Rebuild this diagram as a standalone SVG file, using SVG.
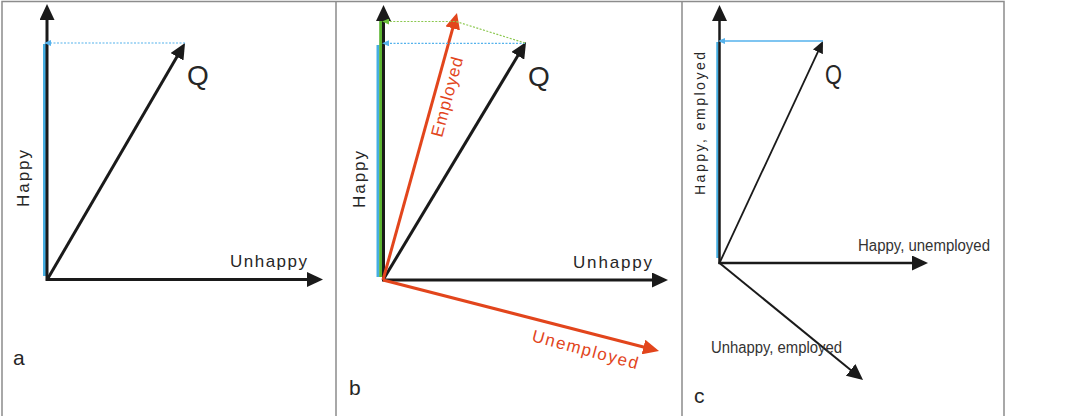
<svg xmlns="http://www.w3.org/2000/svg" width="1084" height="416" viewBox="0 0 1084 416">
<style>
.frame{fill:none;stroke:#8c8c8c;stroke-width:1.5}
.ax{stroke:#1a1a1a;stroke-width:3;fill:none}
.axc{stroke:#1a1a1a;stroke-width:2.5;fill:none}
.thin{stroke:#1a1a1a;stroke-width:1.8;fill:none}
.red{stroke:#e2451c;stroke-width:3;fill:none}
.bluebar{stroke:#45aee2;stroke-width:3}
.greenbar{stroke:#5cb531;stroke-width:3}
.bdash{stroke:#55b2ec;stroke-width:1.2;stroke-dasharray:2 1.5;fill:none}
.gdash{stroke:#8cc850;stroke-width:1.2;stroke-dasharray:2 1.5;fill:none}
.bsolid{stroke:#55b2ec;stroke-width:1.5;fill:none}
text{font-family:"Liberation Sans",Arial,sans-serif;fill:#262626}
.lbl{font-size:17px}
.q{font-size:28px}
.pl{font-size:21px}
.rt{fill:#e2451c}
.cl{font-size:16px;fill:#333}
</style>
<defs>
<marker id="ah" markerUnits="userSpaceOnUse" viewBox="0 0 16 15" refX="6" refY="7.5" markerWidth="16" markerHeight="15" orient="auto"><path d="M0,0 L16,7.5 L0,15 z" fill="#1a1a1a"/></marker>
<marker id="ahs" markerUnits="userSpaceOnUse" viewBox="0 0 12 11" refX="5" refY="5.5" markerWidth="12" markerHeight="11" orient="auto"><path d="M0,0 L12,5.5 L0,11 z" fill="#1a1a1a"/></marker>
<marker id="ahr" markerUnits="userSpaceOnUse" viewBox="0 0 16 15" refX="6" refY="7.5" markerWidth="16" markerHeight="15" orient="auto"><path d="M0,0 L16,7.5 L0,15 z" fill="#e2451c"/></marker>
<marker id="ahb" markerUnits="userSpaceOnUse" viewBox="0 0 7 6" refX="1" refY="3" markerWidth="7" markerHeight="6" orient="auto"><path d="M0,0 L7,3 L0,6 z" fill="#55b2ec"/></marker>
<marker id="ahg" markerUnits="userSpaceOnUse" viewBox="0 0 7 6" refX="1" refY="3" markerWidth="7" markerHeight="6" orient="auto"><path d="M0,0 L7,3 L0,6 z" fill="#6cbf3a"/></marker>
</defs>
<g id="frame">
<path class="frame" d="M2,416 V1.5 H1004 V416 M336,1.5 V416 M682,1.5 V416"/>
</g>
<g id="panel-a">
<line class="bluebar" x1="44.5" y1="44" x2="44.5" y2="276"/>
<g id="connectors-a">
<line class="ax" x1="47" y1="281" x2="47" y2="14" marker-end="url(#ah)"/>
<line class="ax" x1="46" y1="279.5" x2="313" y2="279.5" marker-end="url(#ah)"/>
<line class="ax" x1="47" y1="280" x2="180" y2="51.6" marker-end="url(#ah)"/>
<line class="bdash" x1="185" y1="43" x2="50" y2="43" marker-end="url(#ahb)"/>
</g>
<text class="lbl" x="230" y="267" textLength="77" lengthAdjust="spacing">Unhappy</text>
<text class="lbl" transform="translate(29,207) rotate(-90)" textLength="57" lengthAdjust="spacing">Happy</text>
<text class="q" x="187" y="85">Q</text>
<text class="pl" x="13" y="365">a</text>
</g>
<g id="panel-b">
<line class="bluebar" x1="378" y1="45" x2="378" y2="277"/>
<line class="greenbar" x1="380.7" y1="16" x2="380.7" y2="277"/>
<g id="connectors-b">
<line class="ax" x1="383.5" y1="281" x2="383.5" y2="15" marker-end="url(#ah)"/>
<line class="ax" x1="382" y1="280" x2="658" y2="280" marker-end="url(#ah)"/>
<line class="ax" x1="383" y1="280" x2="520.9" y2="50.6" marker-end="url(#ah)"/>
<line class="red" x1="383" y1="280" x2="454.3" y2="22.6" marker-end="url(#ahr)"/>
<line class="red" x1="383" y1="280" x2="649.3" y2="348.5" marker-end="url(#ahr)"/>
<line class="bdash" x1="525" y1="43.3" x2="388" y2="43.3" marker-end="url(#ahb)"/>
<polyline class="gdash" points="525,43 456,21.5 388,21.5" marker-end="url(#ahg)"/>
</g>
<text class="lbl" x="573" y="268" textLength="79" lengthAdjust="spacing">Unhappy</text>
<text class="lbl" transform="translate(365,208) rotate(-90)" textLength="57" lengthAdjust="spacing">Happy</text>
<text class="q" x="528" y="86">Q</text>
<text class="lbl rt" transform="translate(442,138) rotate(-75)" textLength="82" lengthAdjust="spacing">Employed</text>
<text class="lbl rt" transform="translate(531,341) rotate(15)" font-size="18" textLength="109" lengthAdjust="spacing">Unemployed</text>
<text class="pl" x="349" y="395">b</text>
</g>
<g id="panel-c">
<line class="bluebar" x1="717.5" y1="42" x2="717.5" y2="258" style="stroke-width:2.5"/>
<g id="connectors-c">
<line class="axc" x1="719.5" y1="264" x2="719.5" y2="15" marker-end="url(#ah)"/>
<line class="axc" x1="718.5" y1="263" x2="918" y2="263" marker-end="url(#ah)"/>
<line class="thin" x1="719.5" y1="263" x2="820" y2="47.3" marker-end="url(#ahs)"/>
<line class="axc" x1="719.5" y1="263" x2="855.3" y2="373.7" style="stroke-width:2" marker-end="url(#ah)"/>
<line class="bsolid" x1="823" y1="41" x2="724" y2="41" marker-end="url(#ahb)"/>
</g>
<text class="cl" x="858" y="251" textLength="132" lengthAdjust="spacingAndGlyphs">Happy, unemployed</text>
<text class="cl" x="711" y="353" textLength="131" lengthAdjust="spacingAndGlyphs">Unhappy, employed</text>
<text transform="translate(705,195) rotate(-90)" font-size="14" textLength="143" lengthAdjust="spacing">Happy, employed</text>
<text x="825" y="84" font-size="27" textLength="17" lengthAdjust="spacingAndGlyphs">Q</text>
<text class="pl" x="694" y="403">c</text>
</g>
</svg>
